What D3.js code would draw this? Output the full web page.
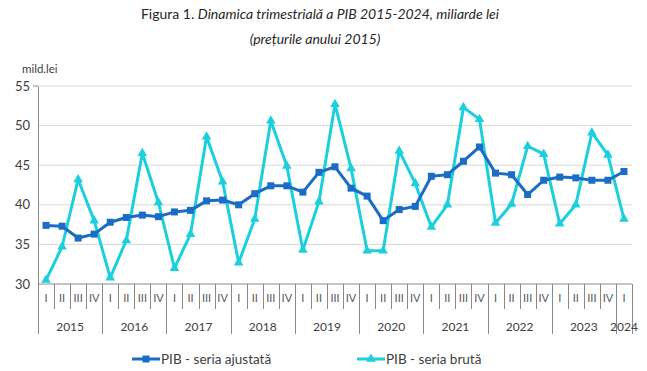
<!DOCTYPE html>
<html>
<head>
<meta charset="utf-8">
<script src="https://cdnjs.cloudflare.com/ajax/libs/d3/7.8.5/d3.min.js"></script>
<style>
  body { margin: 0; background: #fff; }
  text { font-family: Lato, "Open Sans", sans-serif; fill: #404040; }
</style>
</head>
<body>
<div id="chart"></div>
<script>
var years = ["2015", "2016", "2017", "2018", "2019", "2020", "2021", "2022", "2023", "2024"];
var quarterNames = ["I", "II", "III", "IV"];

// PIB - seria ajustata (seasonally adjusted), 2015 Q1 .. 2024 Q1
var adjusted = [
  37.4, 37.3, 35.8, 36.3,
  37.8, 38.4, 38.7, 38.5,
  39.1, 39.3, 40.5, 40.6,
  40.0, 41.4, 42.4, 42.4,
  41.6, 44.1, 44.8, 42.1,
  41.1, 38.0, 39.4, 39.8,
  43.6, 43.8, 45.5, 47.3,
  44.0, 43.8, 41.3, 43.1,
  43.5, 43.4, 43.1, 43.1,
  44.2
];

// PIB - seria bruta (raw)
var raw = [
  30.5, 34.7, 43.2, 38.0,
  30.8, 35.5, 46.5, 40.3,
  32.0, 36.3, 48.6, 42.9,
  32.7, 38.2, 50.6, 44.9,
  34.3, 40.4, 52.7, 44.6,
  34.2, 34.2, 46.8, 42.7,
  37.2, 40.0, 52.3, 50.8,
  37.7, 40.1, 47.4, 46.4,
  37.6, 40.0, 49.1, 46.3,
  38.2
];

var yTicks = [30, 35, 40, 45, 50, 55];

var BLUE = "#1a6cc4";
var CYAN = "#1ccfdc";
var GRID = "#d9d9d9";
var AXIS = "#898989";

var GdpChart = function()
{
  this.width = 647;
  this.height = 371;
  this.left = 38;
  this.right = 632;
  this.top = 86;
  this.bottom = 284;

  // one entry per quarter, built from years and quarter names
  this.quarters = [];
  for(var i = 0; i < adjusted.length; i++)
  {
    this.quarters.push({
      id: i,
      year: years[Math.floor(i / 4)],
      q: quarterNames[i % 4],
      adjusted: adjusted[i],
      raw: raw[i]
    });
  }

  this.x = d3.scaleBand()
             .domain(this.quarters.map(function(d) { return d.id; }))
             .range([this.left, this.right])
             .paddingInner(0).paddingOuter(0);
  this.y = d3.scaleLinear().domain([30, 55]).range([this.bottom, this.top]);
  this.svg = null;
};

GdpChart.prototype.cx = function(d)
{
  return this.x(d.id) + this.x.bandwidth() / 2;
}

GdpChart.prototype.initializeSvg = function()
{
  this.svg = d3.select("#chart").append("svg")
                                .attr("width", this.width)
                                .attr("height", this.height);
}

GdpChart.prototype.drawTitle = function()
{
  var t = this.svg.append("text")
                  .attr("x", 320)
                  .attr("y", 19)
                  .attr("text-anchor", "middle")
                  .style("font-size", "14px")
                  .style("fill", "#262626");
  t.append("tspan").text("Figura 1. ");
  t.append("tspan").style("font-style", "italic")
   .text("Dinamica trimestrială a PIB 2015-2024, miliarde lei");

  this.svg.append("text")
          .attr("x", 315)
          .attr("y", 44)
          .attr("text-anchor", "middle")
          .style("font-size", "14px")
          .style("font-style", "italic")
          .style("fill", "#262626")
          .text("(prețurile anului 2015)");

  this.svg.append("text")
          .attr("x", 22)
          .attr("y", 73)
          .style("font-size", "11.5px")
          .text("mild.lei");
}

GdpChart.prototype.drawAxes = function()
{
  var self = this;

  // horizontal grid
  this.svg.append("g")
          .selectAll("line")
          .data(yTicks.slice(1))
          .enter().append("line")
          .attr("x1", this.left)
          .attr("x2", this.right)
          .attr("y1", function(v) { return self.y(v); })
          .attr("y2", function(v) { return self.y(v); })
          .attr("stroke", GRID)
          .attr("stroke-width", 1);

  var yAxis = d3.axisLeft(this.y).tickValues(yTicks).tickSize(0).tickPadding(8);
  var gy = this.svg.append("g")
                   .attr("transform", "translate(" + this.left + ",0)")
                   .call(yAxis);
  gy.select(".domain").attr("stroke", AXIS);
  gy.selectAll("text").style("font-size", "13px").style("font-family", "Lato, sans-serif").attr("fill", "#404040");
  // little tick at the top of the y axis
  gy.append("line").attr("x1", -5).attr("x2", 0)
    .attr("y1", this.top).attr("y2", this.top).attr("stroke", AXIS);

  // bottom axis line
  this.svg.append("line")
          .attr("x1", this.left).attr("x2", this.right)
          .attr("y1", this.bottom).attr("y2", this.bottom)
          .attr("stroke", AXIS);

  // separators: short between quarters, long between years
  var bounds = this.quarters.map(function(d) { return d.id; });
  bounds.push(this.quarters.length);
  this.svg.append("g")
          .selectAll("line")
          .data(bounds)
          .enter().append("line")
          .attr("x1", function(i) { return Math.round(self.left + i * self.x.bandwidth()) + 0.5; })
          .attr("x2", function(i) { return Math.round(self.left + i * self.x.bandwidth()) + 0.5; })
          .attr("y1", this.bottom)
          .attr("y2", function(i) {
            if(i % 4 === 0 || i === self.quarters.length)
            {
              return 334;
            }
            else
            {
              return 309;
            }
          })
          .attr("stroke", AXIS)
          .attr("stroke-width", 1);

  // quarter labels
  this.svg.append("g")
          .selectAll("text")
          .data(this.quarters)
          .enter().append("text")
          .attr("x", function(d) { return self.cx(d); })
          .attr("y", 302)
          .attr("text-anchor", "middle")
          .style("font-size", "11px")
          .style("fill", "#595959")
          .text(function(d) { return d.q; });

  // year labels, centered under their quarters
  this.svg.append("g")
          .selectAll("text")
          .data(years)
          .enter().append("text")
          .attr("x", function(yr, k) {
            var qs = self.quarters.filter(function(d) { return d.year === yr; });
            return (self.cx(qs[0]) + self.cx(qs[qs.length - 1])) / 2;
          })
          .attr("y", 331)
          .attr("text-anchor", "middle")
          .style("font-size", "12px")
          .style("fill", "#404040")
          .text(function(yr) { return yr; });
}

GdpChart.prototype.drawSeries = function()
{
  var self = this;

  var rawLine = d3.line()
                  .x(function(d) { return self.cx(d); })
                  .y(function(d) { return self.y(d.raw); });
  var adjLine = d3.line()
                  .x(function(d) { return self.cx(d); })
                  .y(function(d) { return self.y(d.adjusted); });

  // raw series first, the adjusted one sits on top
  this.svg.append("path")
          .datum(this.quarters)
          .attr("d", rawLine)
          .attr("fill", "none")
          .attr("stroke", CYAN)
          .attr("stroke-width", 3)
          .attr("stroke-linejoin", "round");

  var tri = d3.symbol().type(d3.symbolTriangle).size(40);
  this.svg.append("g")
          .selectAll("path")
          .data(this.quarters)
          .enter().append("path")
          .attr("d", tri)
          .attr("transform", function(d) { return "translate(" + self.cx(d) + "," + self.y(d.raw) + ")"; })
          .attr("fill", CYAN);

  this.svg.append("path")
          .datum(this.quarters)
          .attr("d", adjLine)
          .attr("fill", "none")
          .attr("stroke", BLUE)
          .attr("stroke-width", 3)
          .attr("stroke-linejoin", "round");

  this.svg.append("g")
          .selectAll("rect")
          .data(this.quarters)
          .enter().append("rect")
          .attr("x", function(d) { return self.cx(d) - 3.5; })
          .attr("y", function(d) { return self.y(d.adjusted) - 3.5; })
          .attr("width", 7)
          .attr("height", 7)
          .attr("fill", BLUE);
}

GdpChart.prototype.drawLegend = function()
{
  var items = [
    { label: "PIB - seria ajustată", color: BLUE, x: 132, marker: "square" },
    { label: "PIB - seria brută", color: CYAN, x: 357, marker: "triangle" }
  ];
  var ly = 359;
  var self = this;

  items.forEach(function(it) {
    var g = self.svg.append("g");
    g.append("line")
     .attr("x1", it.x).attr("x2", it.x + 28)
     .attr("y1", ly).attr("y2", ly)
     .attr("stroke", it.color).attr("stroke-width", 3);
    if(it.marker === "square")
    {
      g.append("rect").attr("x", it.x + 10.5).attr("y", ly - 3.5)
       .attr("width", 7).attr("height", 7).attr("fill", it.color);
    }
    else
    {
      g.append("path").attr("d", d3.symbol().type(d3.symbolTriangle).size(40))
       .attr("transform", "translate(" + (it.x + 14) + "," + ly + ")")
       .attr("fill", it.color);
    }
    g.append("text")
     .attr("x", it.x + 29)
     .attr("y", ly + 4.5)
     .style("font-size", "13.5px")
     .style("fill", "#404040")
     .text(it.label);
  });
}

var chart = new GdpChart();
chart.initializeSvg();
chart.drawTitle();
chart.drawAxes();
chart.drawSeries();
chart.drawLegend();
</script>
</body>
</html>
